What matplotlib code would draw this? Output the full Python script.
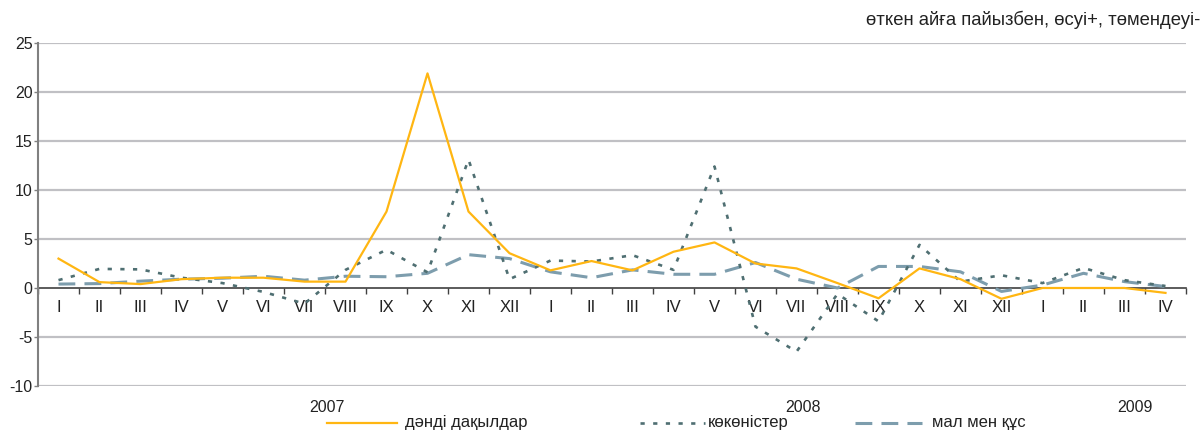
import numpy as np
import matplotlib.pyplot as plt
from matplotlib.lines import Line2D

plt.rcParams['font.family'] = ['Liberation Sans', 'DejaVu Sans']
plt.rcParams['axes.unicode_minus'] = False

# айлар (2007 I - 2009 IV)
months = ['I', 'II', 'III', 'IV', 'V', 'VI', 'VII', 'VIII', 'IX', 'X', 'XI', 'XII',
          'I', 'II', 'III', 'IV', 'V', 'VI', 'VII', 'VIII', 'IX', 'X', 'XI', 'XII',
          'I', 'II', 'III', 'IV']
years = ['2007', '2008', '2009']

grain = [3.0, 0.6, 0.4, 0.9, 1.05, 1.05, 0.65, 0.65, 7.8, 21.9, 7.8, 3.55,
         1.8, 2.75, 1.8, 3.7, 4.65, 2.5, 2.0, 0.5, -1.05, 2.0, 0.9, -1.1,
         0.0, 0.0, 0.0, -0.5]
vegetables = [0.8, 1.95, 1.9, 1.05, 0.5, -0.4, -1.6, 1.85, 3.9, 1.6, 13.1, 0.9,
              2.8, 2.7, 3.35, 1.85, 12.4, -3.95, -6.5, -0.6, -3.4, 4.4, 0.65, 1.3,
              0.5, 2.05, 0.8, 0.2]
livestock = [0.4, 0.45, 0.7, 0.9, 1.0, 1.2, 0.8, 1.2, 1.15, 1.5, 3.4, 3.0,
             1.65, 1.05, 1.85, 1.4, 1.4, 2.6, 0.9, 0.0, 2.2, 2.2, 1.65, -0.35,
             0.3, 1.5, 0.65, 0.15]

labels = ['дәнді дақылдар', 'көкөністер', 'мал мен құс']
c_grain = '#ffb612'
c_veg = '#4f6f72'
c_live = '#7d9dad'
ls_veg = (0, (1.6, 3.2))
ls_live = (0, (5.5, 3))

fig = plt.figure(figsize=(12.01, 4.33), dpi=100)
ax = fig.add_axes([38/1201, 1-386/433, 1148/1201, 343/433])

x = np.arange(len(months))
ax.plot(x, livestock, color=c_live, lw=2.2, linestyle=ls_live, zorder=3)
ax.plot(x, vegetables, color=c_veg, lw=1.9, linestyle=ls_veg, zorder=3)
ax.plot(x, grain, color=c_grain, lw=1.6, zorder=4)

ax.set_xlim(-0.5, len(months) - 0.5)
ax.set_ylim(-10, 25)
ax.set_yticks(range(-10, 30, 5))
for v in range(-10, 30, 5):
    if v != 0:
        ax.axhline(v, color='#c0c0c4', lw=1.6, zorder=1)

# x ось нөл деңгейінде
ax.spines['bottom'].set_position(('data', 0))
ax.spines['bottom'].set_color('#404040')
ax.spines['bottom'].set_linewidth(1.2)
ax.spines['bottom'].set_zorder(2)
ax.spines['left'].set_color('#808080')
ax.spines['left'].set_linewidth(1.5)
ax.spines['top'].set_visible(False)
ax.spines['right'].set_visible(False)

ax.set_xticks(x)
ax.set_xticklabels(months, fontsize=12, color='#222222')
ax.set_xticks(np.arange(-0.5, len(months), 1), minor=True)
ax.tick_params(axis='x', which='major', length=0, pad=9)
ax.tick_params(axis='x', which='minor', length=4, color='#404040', width=1)
ax.tick_params(axis='y', length=3, color='#808080', width=1, labelsize=11.5,
               pad=1, labelcolor='#222222')

# жылдар
for xp, yr in zip([327, 803, 1135], years):
    fig.text(xp/1201, 1-407/433, yr, ha='center', va='center', fontsize=11.5,
             color='#222222')

fig.text(866/1201, 1-20/433, 'өткен айға пайызбен, өсуі+, төмендеуі-',
         ha='left', va='center', fontsize=13.3, color='#222222')

# легенда
items = [(327, 397, 405, c_grain, '-', 1.6),
         (640, 705, 708, c_veg, ls_veg, 1.9),
         (855, 922, 932, c_live, ls_live, 2.2)]
ly = 1 - 423/433
for (x0, x1, xt, col, ls, lw), lab in zip(items, labels):
    fig.add_artist(Line2D([x0/1201, x1/1201], [ly, ly], color=col, linestyle=ls,
                          lw=lw, transform=fig.transFigure))
    fig.text(xt/1201, ly, lab, ha='left', va='center', fontsize=12,
             color='#222222')

fig.savefig('out.png', dpi=100)
